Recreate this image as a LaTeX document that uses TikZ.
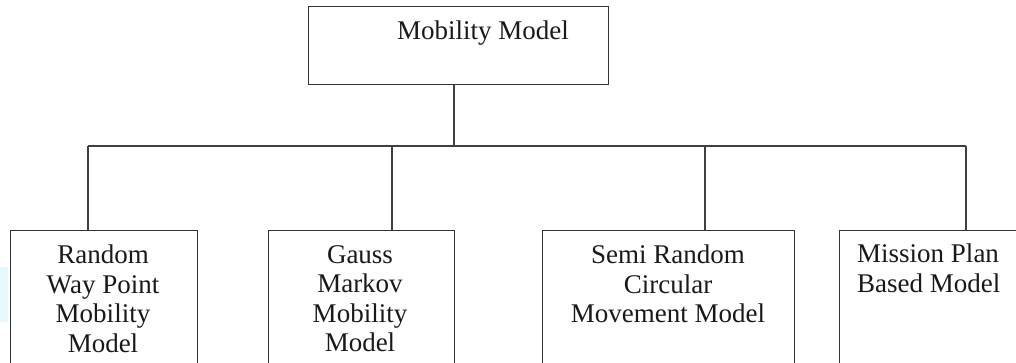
\documentclass[tikz,border=0pt]{standalone}
\usepackage{fontspec}
\setmainfont{Liberation Serif}
\definecolor{patchblue}{RGB}{228,250,255}
\begin{document}
\begin{tikzpicture}[x=1pt,y=-1pt,
  box/.style={draw=black!80, line width=1.3pt, rectangle, inner sep=0pt, anchor=north west},
  lbl/.style={inner sep=0pt, font=\fontsize{27}{29.5}\selectfont, align=center, text=black!90},
  conn/.style={draw=black!75, line width=1.3pt}]
\useasboundingbox (0,0) rectangle (1016,363);
\clip (0,0) rectangle (1016,363);
\fill[patchblue] (0,267) rectangle (8,322);
% top box
\node[box, minimum width=300pt, minimum height=78pt] (top) at (308,6) {};
\node[lbl, anchor=north] (toplbl) at (483,21) {Mobility Model};
% bottom boxes
\node[box, minimum width=187pt, minimum height=150pt] (b1) at (10,230) {};
\node[box, minimum width=186pt, minimum height=150pt] (b2) at (268,230) {};
\node[box, minimum width=252pt, minimum height=150pt] (b3) at (542,230) {};
\node[box, minimum width=190pt, minimum height=150pt] (b4) at (839,230) {};
\node[lbl, anchor=north] (t1) at (103,245) {Random\\Way Point\\Mobility\\Model};
\node[lbl, anchor=north] (t2) at (360,245) {Gauss\\Markov\\Mobility\\Model};
\node[lbl, anchor=north] (t3) at (668,245) {Semi Random\\Circular\\Movement Model};
\node[lbl, anchor=north west, align=left] (t4) at (857,244) {Mission Plan\\Based Model};
% connectors
\coordinate (bus) at (454,146);
\coordinate (j1) at (88,146);
\coordinate (j2) at (392,146);
\coordinate (j3) at (705,146);
\coordinate (j4) at (966,146);
\draw[conn] (top.south -| bus) -- (bus);
\draw[conn] (j1) -- (j4);
\draw[conn] (j1) -- (j1 |- b1.north);
\draw[conn] (j2) -- (j2 |- b2.north);
\draw[conn] (j3) -- (j3 |- b3.north);
\draw[conn] (j4) -- (j4 |- b4.north);
\end{tikzpicture}
\end{document}
